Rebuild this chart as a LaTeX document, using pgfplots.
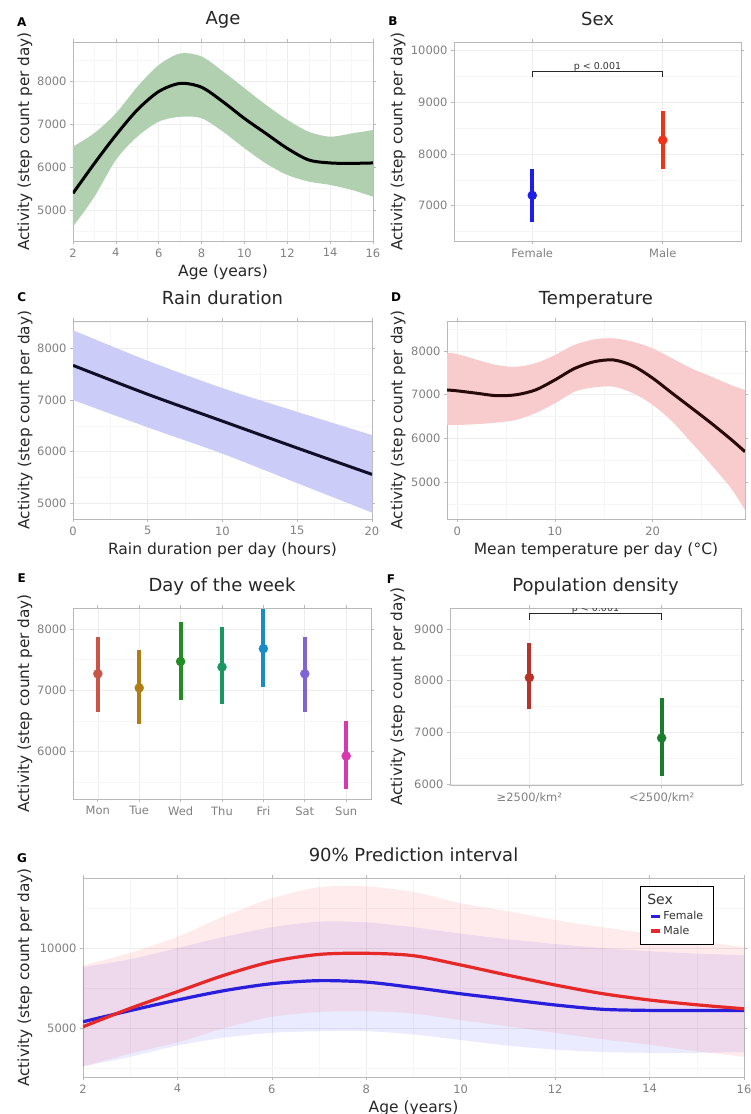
\documentclass[border=0pt]{standalone}
\usepackage{fontspec}
\setmainfont{DejaVu Sans}
\usepackage{pgfplots}
\pgfplotsset{compat=1.18}

\definecolor{bandA}{RGB}{176,208,176}
\definecolor{bandC}{RGB}{204,204,248}
\definecolor{lineC}{RGB}{15,15,40}
\definecolor{bandD}{RGB}{248,204,204}
\definecolor{lineD}{RGB}{40,10,10}
\definecolor{femc}{RGB}{30,30,230}
\definecolor{malc}{RGB}{240,50,25}
\definecolor{mon}{RGB}{200,85,70}
\definecolor{tue}{RGB}{175,125,20}
\definecolor{wed}{RGB}{35,140,35}
\definecolor{thu}{RGB}{25,150,100}
\definecolor{fri}{RGB}{25,140,200}
\definecolor{sat}{RGB}{125,100,215}
\definecolor{sun}{RGB}{215,55,175}
\definecolor{dense}{RGB}{185,50,40}
\definecolor{sparse}{RGB}{25,125,45}
\definecolor{gfem}{RGB}{40,30,220}
\definecolor{gmal}{RGB}{230,40,40}

\pgfplotsset{
  panel/.style={
    scale only axis, anchor=south west,
    axis line style={gray!55, line width=0.7pt},
    tick align=outside, major tick length=3pt,
    tick style={gray!55, line width=0.7pt},
    minor tick length=0pt,
    grid=both,
    major grid style={gray!14, line width=0.6pt},
    minor grid style={gray!7, line width=0.4pt},
    tick label style={font=\fontsize{11.5}{13}\selectfont, text=black!50},
    xticklabel style={yshift=-1pt},
    title style={font=\fontsize{18}{20}\selectfont, text=black!85, at={(0.5,1)}, anchor=base, yshift=11pt},
    xlabel style={font=\fontsize{15.5}{17}\selectfont, text=black!85, at={(0.5,0)}, anchor=base, yshift=-35pt},
    ylabel={Activity (step count per day)},
    scaled ticks=false,
    /pgf/number format/1000 sep={},
    /pgf/number format/assume math mode=true,
  },
  ylab/.style={ylabel style={font=\fontsize{15.3}{17}\selectfont, text=black!85,
    at={(axis description cs:#1,0.5)}, anchor=center}},
  band/.style={fill=#1, draw=none, smooth, forget plot},
  pr/.style={only marks, mark=*, mark size=4.5pt, color=#1,
    error bars/.cd, y dir=both, y explicit, error mark=none,
    error bar style={line width=4pt, color=#1}},
}

\begin{document}
\begin{tikzpicture}
\useasboundingbox (0,0) rectangle (751pt,-1114pt);

% A: Age
\begin{axis}[panel, at={(73pt,-241pt)}, width=300pt, height=199pt,
  xmin=2, xmax=16, ymin=4274, ymax=8929,
  xtick={2,4,...,16}, minor xtick={3,5,...,15},
  ytick={5000,6000,7000,8000}, minor ytick={4500,5500,6500,7500,8500},
  title={Age}, xlabel={Age (years)}, ylab={-0.16}]
\addplot[band=bandA] coordinates {(2,6480) (3,6800) (4,7260) (5,7880) (6,8390) (7,8660) (8,8590) (9,8240) (10,7850) (11,7460) (12,7110) (13,6830) (14,6715) (15,6790) (16,6870) (16,6870)
  (16,5310) (16,5310) (15,5470) (14,5585) (13,5665) (12,5820) (11,6090) (10,6445) (9,6830) (8,7145) (7,7180) (6,7065) (5,6715) (4,6170) (3,5310) (2,4610)} -- cycle;
\addplot[black, line width=3pt, smooth] coordinates {(2,5390) (3,6090) (4,6750) (5,7340) (6,7770) (7,7960) (8,7870) (9,7530) (10,7140) (11,6790) (12,6440) (13,6170) (14,6100) (15,6090) (16,6100)};
\end{axis}

% B: Sex
\begin{axis}[panel, at={(454pt,-241pt)}, width=287pt, height=199pt,
  xmin=0.4, xmax=2.6, ymin=6317, ymax=10168,
  xtick={1,2}, xticklabels={Female,Male}, minor xtick={},
  ytick={7000,8000,9000,10000}, minor ytick={6500,7500,8500,9500},
  title={Sex}, ylab={-0.195}]
\addplot[pr=femc] coordinates {(1,7200) += (0,520) -= (0,520)};
\addplot[pr=malc] coordinates {(2,8270) += (0,570) -= (0,550)};
\addplot[black!85, line width=1.4pt] coordinates {(1,9490) (1,9600) (2,9600) (2,9490)};
\node[anchor=base, font=\fontsize{9.5}{10}\selectfont, text=black!80] at (axis cs:1.5,9630) {p < 0.001};
\end{axis}

% C: Rain duration
\begin{axis}[panel, at={(73pt,-519pt)}, width=299pt, height=198pt,
  xmin=0, xmax=20, ymin=4696, ymax=8529,
  xtick={0,5,...,20}, minor xtick={2.5,7.5,12.5,17.5},
  ytick={5000,6000,7000,8000}, minor ytick={4500,5500,6500,7500,8500},
  title={Rain duration}, xlabel={Rain duration per day (hours)}, ylab={-0.16}]
\addplot[band=bandC] coordinates {(0,8350) (5,7760) (10,7230) (15,6770) (20,6320) (20,6320)
  (20,4820) (20,4820) (15,5390) (10,5960) (5,6470) (0,7000)} -- cycle;
\addplot[lineC, line width=3pt, smooth] coordinates {(0,7670) (5,7110) (10,6590) (15,6070) (20,5560)};
\end{axis}

% D: Temperature
\begin{axis}[panel, at={(447pt,-519pt)}, width=298pt, height=198pt,
  xmin=-1.05, xmax=29.45, ymin=4163, ymax=8685,
  xtick={0,10,20}, minor xtick={5,15,25},
  ytick={5000,6000,7000,8000}, minor ytick={4500,5500,6500,7500,8500},
  title={Temperature}, xlabel={Mean temperature per day (°C)}, ylab={-0.164}]
\addplot[band=bandD] coordinates {(-1.05,7960) (0,7930) (2,7800) (4,7680) (6,7640) (8,7720) (10,7910) (12,8140) (14,8265) (16,8290) (18,8210) (20,8060) (22,7830) (24,7600) (26,7415) (28,7225) (29.45,7110) (29.45,7110)
  (29.45,4375) (29.45,4375) (28,4870) (26,5400) (24,5900) (22,6390) (20,6770) (18,7035) (16,7185) (14,7170) (12,7070) (10,6805) (8,6580) (6,6425) (4,6365) (2,6330) (0,6310) (-1.05,6310)} -- cycle;
\addplot[lineD, line width=3pt, smooth] coordinates {(-1.05,7110) (0,7090) (2,7035) (4,6980) (6,7000) (8,7110) (10,7340) (12,7600) (14,7755) (16,7795) (18,7660) (20,7380) (22,7035) (24,6695) (26,6350) (28,5985) (29.45,5700)};
\end{axis}

% E: Day of the week
\begin{axis}[panel, at={(73pt,-799pt)}, width=298pt, height=191pt,
  xmin=0.4, xmax=7.6, ymin=5229, ymax=8342,
  xtick={1,...,7}, xticklabels={Mon,Tue,Wed,Thu,Fri,Sat,Sun}, minor xtick={},
  ytick={6000,7000,8000}, minor ytick={5500,6500,7500},
  title={Day of the week}, ylab={-0.161}]
\addplot[pr=mon] coordinates {(1,7270) += (0,605) -= (0,625)};
\addplot[pr=tue] coordinates {(2,7040) += (0,610) -= (0,590)};
\addplot[pr=wed] coordinates {(3,7470) += (0,650) -= (0,635)};
\addplot[pr=thu] coordinates {(4,7380) += (0,645) -= (0,610)};
\addplot[pr=fri] coordinates {(5,7680) += (0,640) -= (0,625)};
\addplot[pr=sat] coordinates {(6,7270) += (0,605) -= (0,625)};
\addplot[pr=sun] coordinates {(7,5930) += (0,570) -= (0,540)};
\end{axis}

% F: Population density
\begin{axis}[panel, at={(450pt,-785pt)}, width=291pt, height=177pt,
  xmin=0.4, xmax=2.6, ymin=5980, ymax=9406,
  xtick={1,2}, xticklabels={≥2500/km²,<2500/km²}, minor xtick={},
  ytick={6000,7000,8000,9000}, minor ytick={6500,7500,8500},
  title={Population density}, ylab={-0.179}]
\addplot[pr=dense] coordinates {(1,8060) += (0,670) -= (0,610)};
\addplot[pr=sparse] coordinates {(2,6890) += (0,770) -= (0,730)};
\addplot[black!85, line width=1.4pt] coordinates {(1,9170) (1,9300) (2,9300) (2,9170)};
\node[anchor=base, font=\fontsize{9.5}{10}\selectfont, text=black!80] at (axis cs:1.5,9330) {p < 0.001};
\end{axis}

% G: 90% prediction interval
\begin{axis}[panel, at={(83pt,-1077pt)}, width=661pt, height=199pt,
  xmin=2, xmax=16, ymin=1937, ymax=14375,
  xtick={2,4,...,16}, minor xtick={3,5,...,15},
  ytick={5000,10000}, minor ytick={2500,7500,12500},
  title={90\% Prediction interval}, xlabel={Age (years)}, ylab={-0.0877},
  legend style={at={(axis description cs:0.843,0.96)}, anchor=north west, draw=black, line width=1.2pt,
    font=\fontsize{11}{12}\selectfont, text=black!80, row sep=1pt, inner xsep=8pt, inner ysep=6pt,
    cells={anchor=west}, /tikz/every even column/.append style={column sep=3pt}},
  legend image code/.code={\draw[line width=3.5pt] (0pt,0pt) -- (9pt,0pt);}]
\addplot[band=blue, fill opacity=0.08] coordinates {(2,8800) (3,9300) (4,10000) (5,10700) (6,11300) (7,11650) (8,11600) (9,11300) (10,10900) (11,10550) (12,10250) (13,10000) (14,9800) (15,9650) (16,9550) (16,9550)
  (16,3500) (16,3500) (15,3450) (14,3450) (13,3500) (12,3650) (11,3900) (10,4250) (9,4600) (8,4800) (7,4800) (6,4700) (5,4400) (4,3900) (3,3200) (2,2600)} -- cycle;
\addplot[band=red, fill opacity=0.08] coordinates {(2,8900) (3,9700) (4,10700) (5,12000) (6,13100) (7,13800) (8,13850) (9,13500) (10,12800) (11,12300) (12,11750) (13,11300) (14,10900) (15,10450) (16,10050) (16,10050)
  (16,3200) (16,3200) (15,3550) (14,3950) (13,4300) (12,4700) (11,5100) (10,5500) (9,5900) (8,6050) (7,6000) (6,5700) (5,5000) (4,4100) (3,3400) (2,2600)} -- cycle;
\addlegendimage{empty legend}
\addlegendentry{\hspace{-16pt}\fontsize{14}{16}\selectfont Sex}
\addplot[gfem, line width=3.2pt, smooth] coordinates {(2,5390) (3,6090) (4,6750) (5,7340) (6,7770) (7,7960) (8,7870) (9,7530) (10,7140) (11,6790) (12,6440) (13,6170) (14,6100) (15,6090) (16,6100)};
\addlegendentry{Female}
\addplot[gmal, line width=3.2pt, smooth] coordinates {(2,5080) (3,6230) (4,7270) (5,8310) (6,9150) (7,9600) (8,9670) (9,9520) (10,8940) (11,8300) (12,7690) (13,7150) (14,6750) (15,6450) (16,6200)};
\addlegendentry{Male}
\end{axis}

% panel letters
\begin{scope}[every node/.style={font=\bfseries\fontsize{12}{12}\selectfont, text=black}]
\node at (21.7pt,-21.7pt) {A};
\node at (393pt,-21pt) {B};
\node at (21.7pt,-297pt) {C};
\node at (396pt,-297pt) {D};
\node at (21.7pt,-578pt) {E};
\node at (391pt,-579pt) {F};
\node at (22pt,-858pt) {G};
\end{scope}
\end{tikzpicture}
\end{document}
